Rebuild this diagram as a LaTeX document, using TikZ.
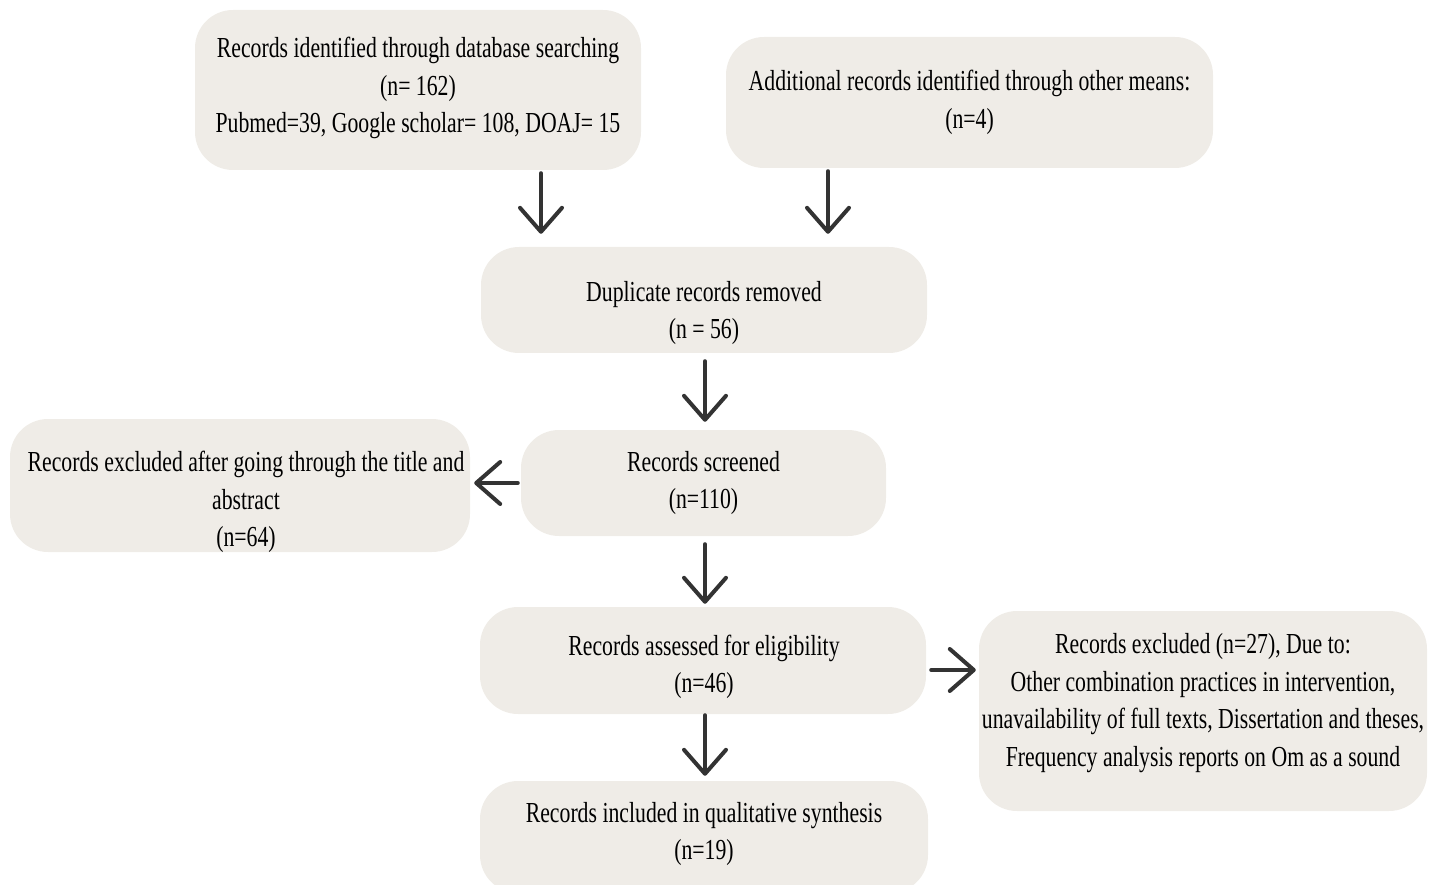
\documentclass[tikz,border=0pt]{standalone}
\usepackage{fontspec}
\setmainfont{Liberation Serif}[FakeStretch=0.75]
\usetikzlibrary{arrows.meta}
\definecolor{boxfill}{RGB}{239,236,231}
\definecolor{arrowcol}{RGB}{51,51,51}
\tikzset{
  flowbox/.style={fill=boxfill, draw=none, rounded corners=38pt, inner sep=0pt},
  flowtext/.style={align=center, font=\fontsize{29}{37.5}\selectfont, text=black, inner sep=0pt},
  arr/.style={draw=arrowcol, line width=4pt, line cap=round, line join=round,
    -{Straight Barb[length=24pt,width=42pt,line width=4pt,round]}}
}
\begin{document}
\begin{tikzpicture}[x=1pt,y=-1pt]
\useasboundingbox (0,0) rectangle (1438,885);
% boxes
\node[flowbox, minimum width=446pt, minimum height=160pt] (A) at (418,90) {};
\node[flowbox, minimum width=487pt, minimum height=131pt] (B) at (969.5,102.5) {};
\node[flowbox, minimum width=446pt, minimum height=106pt] (C) at (704,300) {};
\node[flowbox, minimum width=365pt, minimum height=106pt] (D) at (703.5,483) {};
\node[flowbox, minimum width=460pt, minimum height=133pt] (E) at (240,485.5) {};
\node[flowbox, minimum width=446pt, minimum height=107pt] (F) at (703,660.5) {};
\node[flowbox, minimum width=448pt, minimum height=200pt] (G) at (1203,711) {};
\node[flowbox, minimum width=448pt, minimum height=112pt] (H) at (704,837) {};
% texts
\node[flowtext] (At) at (418,88) {Records identified through database searching\\(n= 162)\\Pubmed=39, Google scholar= 108, DOAJ= 15};
\node[flowtext] (Bt) at (969.5,102.5) {Additional records identified through other means:\\(n=4)};
\node[flowtext] (Ct) at (704,313) {Duplicate records removed\\(n = 56)};
\node[flowtext] (Dt) at (703.5,483) {Records screened\\(n=110)};
\node[flowtext] (Et) at (246,502) {Records excluded after going through the title and\\abstract\\(n=64)};
\node[flowtext] (Ft) at (704,667) {Records assessed for eligibility\\(n=46)};
\node[flowtext] (Gt) at (1203,703) {Records excluded (n=27), Due to:\\Other combination practices in intervention,\\unavailability of full texts, Dissertation and theses,\\Frequency analysis reports on Om as a sound};
\node[flowtext] (Ht) at (704,834) {Records included in qualitative synthesis\\(n=19)};
% arrows
\draw[arr] ([xshift=123pt,yshift=-3pt]A.south) -- ([xshift=-163pt,yshift=13pt]C.north);
\draw[arr] ([xshift=-141.5pt,yshift=-3pt]B.south) -- ([xshift=124pt,yshift=13pt]C.north);
\draw[arr] ([xshift=1pt,yshift=-8pt]C.south) -- ([xshift=1.5pt,yshift=8pt]D.north);
\draw[arr] ([xshift=-3pt]D.west) -- ([xshift=4pt,yshift=2.5pt]E.east);
\draw[arr] ([xshift=1.5pt,yshift=-8pt]D.south) -- ([xshift=2pt,yshift=3pt]F.north);
\draw[arr] ([xshift=5pt,yshift=-9.5pt]F.east) -- ([xshift=-3pt,yshift=41pt]G.west);
\draw[arr] ([xshift=2pt,yshift=-1pt]F.south) -- ([xshift=1pt,yshift=5pt]H.north);
\end{tikzpicture}
\end{document}
